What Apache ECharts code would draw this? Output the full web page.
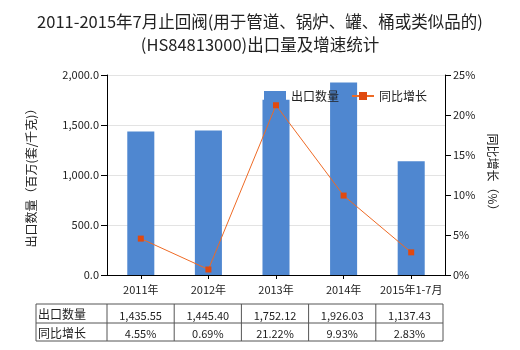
<!DOCTYPE html>
<html><head><meta charset="utf-8">
<script src="https://cdn.jsdelivr.net/npm/echarts@6/dist/echarts.min.js"></script>
<style>html,body{margin:0;padding:0;background:#fff}#c{width:520px;height:350px}</style>
</head><body><div id="c"></div>
<script>
var categories = ['2011年','2012年','2013年','2014年','2015年1-7月'];
var exportQty = [1435.55, 1445.40, 1752.12, 1926.03, 1137.43];
var growth = [4.55, 0.69, 21.22, 9.93, 2.83];
var qtyLabels = ['1,435.55','1,445.40','1,752.12','1,926.03','1,137.43'];
var growthLabels = ['4.55%','0.69%','21.22%','9.93%','2.83%'];
var rowNames = ['出口数量','同比增长'];

var FONT = '"Noto Sans CJK SC", "Noto Sans", sans-serif';
var chart = echarts.init(document.getElementById('c'));

var gx0 = 36, gL = 107, gR = 443, rowTops = [304, 323, 341];
var g = [];
var lineStyle = {stroke:'#555', lineWidth:1};
rowTops.forEach(function(y){ g.push({type:'line', shape:{x1:gx0,y1:y,x2:gR,y2:y}, style:lineStyle}); });
var colW = (gR - gL) / categories.length;
var xs = [gx0, gL];
for (var i=1;i<=categories.length;i++) xs.push(gL + colW*i);
xs.forEach(function(x){ g.push({type:'line', shape:{x1:x,y1:rowTops[0],x2:x,y2:rowTops[2]}, style:lineStyle}); });
var rows = [qtyLabels, growthLabels];
rows.forEach(function(r, ri){
  var yc = (rowTops[ri] + rowTops[ri+1]) / 2 + 1;
  g.push({type:'text', x: gx0+2, y: yc, style:{text: rowNames[ri], font:'12px '+FONT, fill:'#222', textVerticalAlign:'middle', textAlign:'left'}});
  r.forEach(function(t, ci){
    g.push({type:'text', x: gL + colW*(ci+0.5), y: yc+1, style:{text:t, font:'11px '+FONT, fill:'#222', textAlign:'center', textVerticalAlign:'middle'}});
  });
});

chart.setOption({
  animation:false,
  textStyle:{fontFamily:FONT},
  title:{
    text:'2011-2015年7月止回阀(用于管道、锅炉、罐、桶或类似品的)\n(HS84813000)出口量及增速统计',
    left:'center', top:5,
    textStyle:{fontSize:16.5, fontWeight:'normal', color:'#222', lineHeight:23, fontFamily:FONT}
  },
  legend:{
    top:85, left:259, itemWidth:22, itemHeight:10, itemGap:12,
    textStyle:{fontSize:12, color:'#222'},
    data:[{name:'出口数量', icon:'rect'}, {name:'同比增长'}]
  },
  grid:{left:107, right:75, top:75, bottom:75},
  xAxis:{
    type:'category', data:categories,
    axisLine:{lineStyle:{color:'#000'}},
    axisTick:{show:true, alignWithLabel:true, length:4, lineStyle:{color:'#000'}},
    axisLabel:{color:'#222', fontSize:11, margin:9, interval:0}
  },
  yAxis:[{
    type:'value', min:0, max:2000, interval:500,
    name:'出口数量（百万(套/千克)）', nameLocation:'middle', nameGap:70, nameRotate:90,
    nameTextStyle:{fontSize:12, color:'#222'},
    axisLine:{show:true, lineStyle:{color:'#000'}},
    axisTick:{show:true, inside:false, length:6, lineStyle:{color:'#000'}},
    axisLabel:{color:'#222', fontSize:11, formatter:function(v){return v.toLocaleString('en-US',{minimumFractionDigits:1,maximumFractionDigits:1});}},
    splitLine:{lineStyle:{color:'#e3e3e3'}}
  },{
    type:'value', min:0, max:25, interval:5,
    name:'同比增长（%）', nameLocation:'middle', nameGap:38, nameRotate:-90,
    nameTextStyle:{fontSize:12, color:'#222'},
    axisLine:{show:true, lineStyle:{color:'#000'}},
    axisTick:{show:true, length:6, lineStyle:{color:'#000'}},
    axisLabel:{color:'#222', fontSize:11, formatter:'{value}%'},
    splitLine:{show:false}
  }],
  series:[{
    name:'出口数量', type:'bar', data:exportQty, barWidth:'40%',
    itemStyle:{color:'#4f87d0'}
  },{
    name:'同比增长', type:'line', yAxisIndex:1, data:growth,
    symbol:'rect', symbolSize:6,
    lineStyle:{color:'#ee6a25', width:1},
    itemStyle:{color:'#e0490f'}
  }],
  graphic:g
});
</script></body></html>
